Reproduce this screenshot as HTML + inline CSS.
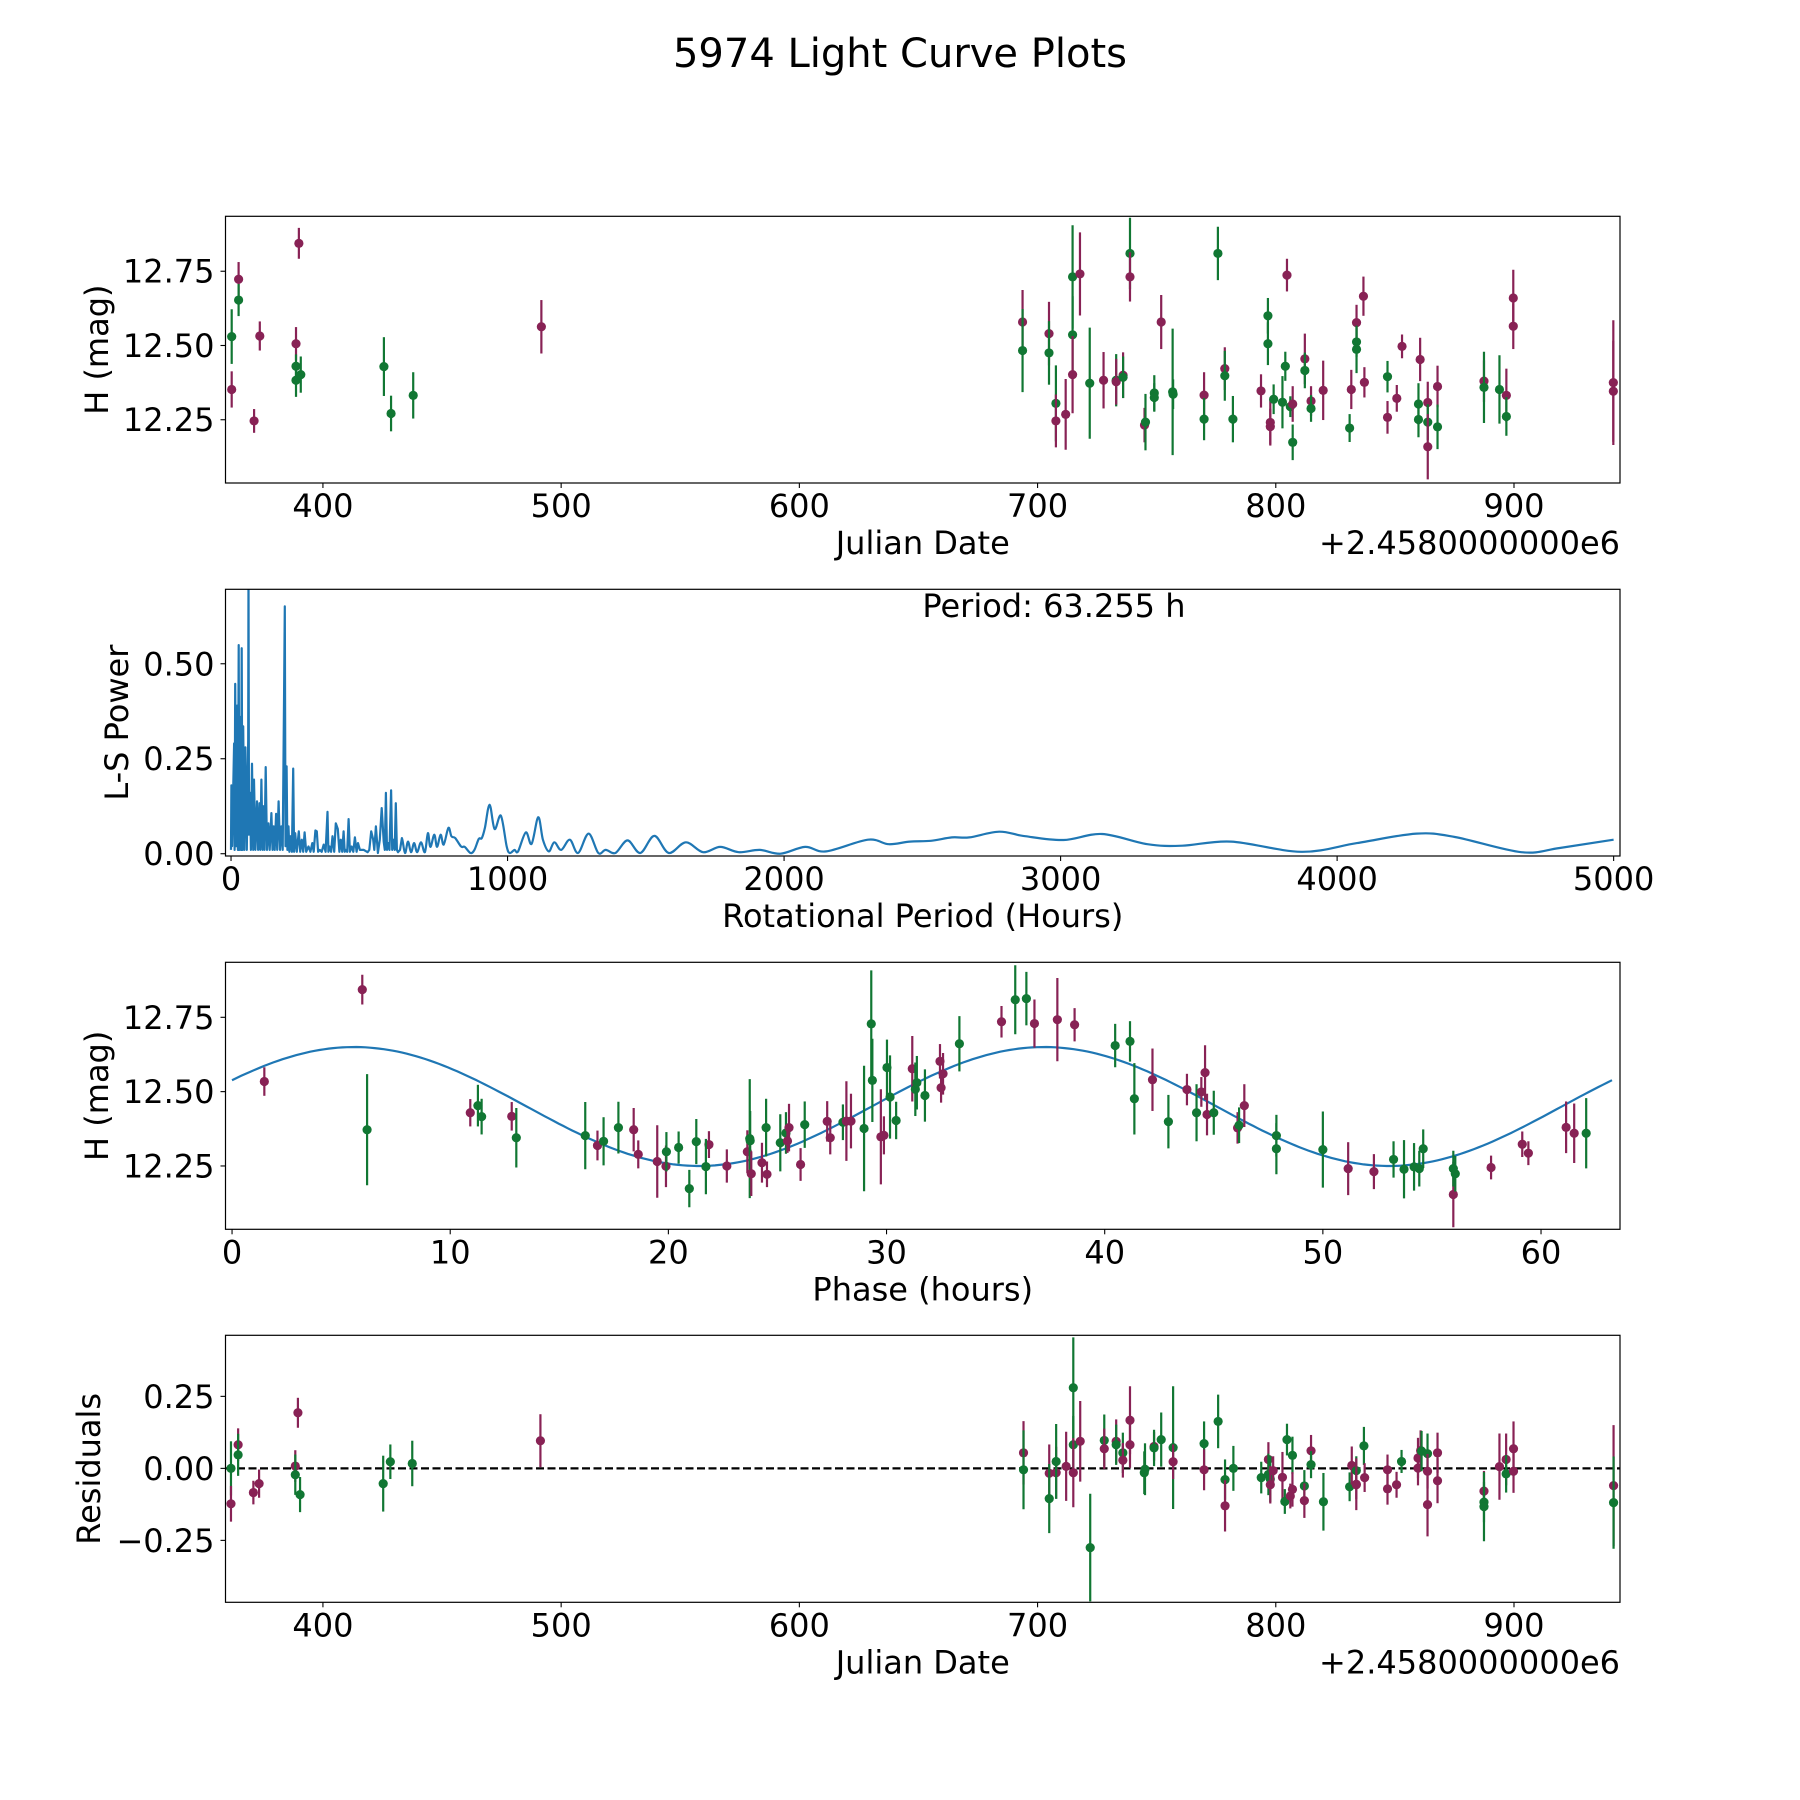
<!DOCTYPE html>
<html><head><meta charset="utf-8"><title>5974 Light Curve Plots</title>
<style>html,body{margin:0;padding:0;background:#fff}svg{display:block}text{font-family:"DejaVu Sans","Liberation Sans",sans-serif;fill:#000}</style>
</head><body>
<svg id="fig" xmlns="http://www.w3.org/2000/svg" width="1800" height="1800" viewBox="0 0 1800 1800">
<rect width="1800" height="1800" fill="#fff"/>
<text x="900" y="67" font-size="40" text-anchor="middle">5974 Light Curve Plots</text>
</svg>
<script>
// ---- Panel 1: light curve (JD offset, mag, err) ----
const lcJD = [361.7,361.7,364.6,364.6,371.1,373.5,388.7,388.7,388.7,389.9,390.7,425.6,428.6,437.9,491.7,
693.7,693.7,704.8,704.8,707.7,707.7,711.8,714.7,714.7,714.7,717.8,721.9,727.7,733.0,733.0,735.9,735.9,738.8,738.8,744.9,745.3,749.0,749.0,751.9,756.7,756.9,769.9,769.9,775.7,778.6,778.6,782.0,793.8,796.7,796.7,797.7,797.7,799.1,802.8,804.0,804.7,806.1,807.1,807.1,812.2,812.2,814.8,814.8,819.9,831.0,831.7,833.9,833.9,833.9,836.8,837.2,846.9,846.9,850.8,853.0,860.6,859.9,859.9,863.8,863.8,863.8,867.9,867.9,887.4,887.4,893.9,896.8,896.8,899.7,899.7,941.7,941.7];
const lcMag = [12.53,12.352,12.723,12.653,12.246,12.532,12.506,12.43,12.383,12.844,12.402,12.429,12.271,12.332,12.563,
12.579,12.483,12.540,12.475,12.305,12.246,12.268,12.731,12.536,12.402,12.741,12.373,12.383,12.383,12.378,12.4,12.393,12.81,12.731,12.232,12.242,12.34,12.325,12.579,12.344,12.336,12.333,12.252,12.81,12.422,12.398,12.252,12.347,12.6,12.506,12.241,12.227,12.319,12.309,12.43,12.737,12.294,12.303,12.174,12.455,12.416,12.313,12.288,12.349,12.222,12.352,12.577,12.512,12.487,12.666,12.376,12.395,12.258,12.322,12.497,12.453,12.303,12.251,12.308,12.242,12.159,12.362,12.226,12.38,12.359,12.352,12.332,12.261,12.66,12.565,12.375,12.346];
const lcErr = [0.092,0.061,0.058,0.054,0.04,0.049,0.056,0.04,0.056,0.052,0.061,0.099,0.06,0.078,0.09,
0.108,0.14,0.107,0.107,0.128,0.089,0.119,0.174,0.13,0.13,0.14,0.187,0.095,0.088,0.077,0.077,0.07,0.12,0.083,0.058,0.095,0.06,0.048,0.091,0.213,0.05,0.077,0.071,0.09,0.072,0.084,0.078,0.056,0.06,0.072,0.078,0.06,0.05,0.088,0.049,0.055,0.035,0.06,0.06,0.085,0.06,0.05,0.045,0.1,0.047,0.066,0.06,0.05,0.08,0.066,0.051,0.053,0.055,0.045,0.04,0.073,0.07,0.06,0.07,0.06,0.11,0.07,0.075,0.07,0.12,0.115,0.09,0.065,0.095,0.077,0.21,0.17];
const lcBand = "GMMGMMMGGMGGGGM"+"MGMGGMMGGMMGMGMMGGMMGGGMGGMGGMGGMGGMMGGGMGMGMGMGMGMMGGMMGMMMMGGMGMMGMGGMG";
// ---- Panel 2: Lomb-Scargle periodogram ----
const lsPeriod = [
0,1.4,4,11,13,15,18,22,25,27.6,
30,33,36,38.6,41,44,48,52,57,62,
63.3,65,69,72,76,80,83,88,94,98,
103,106,110,114,117,121,125.5,130,135,140,
146,150,154,158,163,167,172,177,182,187,
192,194.5,197,201,204,208,211,215,220,225,
228,232,238,245,250,256,261,266,272,280,
287,294,299,305,310,315,321,328,335,342,
349,352,356,362,367,373,379,386,392,397,
402,407,411,415,420,425,430,436,442,448,
454,459,466,480,494,500,507,514,518,524,
531,538,545,552,556,560,564,568,573,579,
583,587,592,596,600,604,611,618,629,640,
651,662,673,687,701,712,721,735,745,758,
769,786,797,811,832,845,866,880,896,907,
918,935,953,976,997,1008,1025,1038,1066,1087,
1111,1128,1149,1169,1194,1225,1255,1293,1328,1355,
1390,1434,1480,1531,1583,1645,1707,1769,1836,1912,
1987,2076,2152,2303,2379,2455,2531,2607,2670,2778,
2872,3011,3150,3314,3440,3617,3870,4072,4287,4426,
4666,4805,5000];
const lsPower = [
0.01,0.18,0.02,0.29,0.01,0.447,0.02,0.39,0.01,0.549,
0.01,0.36,0.01,0.541,0.01,0.335,0.01,0.28,0.01,0.3,
0.75,0.05,0.16,0.01,0.237,0.01,0.195,0.01,0.138,0.01,
0.133,0.01,0.195,0.01,0.125,0.01,0.228,0.01,0.08,0.01,
0.107,0.01,0.072,0.01,0.105,0.01,0.138,0.01,0.072,0.01,
0.427,0.651,0.02,0.23,0.01,0.072,0.005,0.046,0.005,0.224,
0.005,0.054,0.005,0.059,0.005,0.037,0.005,0.056,0.005,0.019,
0.005,0.028,0.005,0.061,0.059,0.005,0.01,0.005,0.024,0.005,
0.11,0.005,0.019,0.005,0.046,0.005,0.08,0.065,0.005,0.037,
0.005,0.059,0.005,0.01,0.005,0.091,0.005,0.019,0.005,0.043,
0.005,0.028,0.01,0.01,0.004,0.01,0.059,0.037,0.01,0.072,
0.002,0.037,0.12,0.032,0.01,0.16,0.01,0.028,0.01,0.167,
0.01,0.037,0.01,0.133,0.01,0.004,0.01,0.041,0.002,0.032,
0.004,0.028,0.004,0.03,0.004,0.054,0.018,0.05,0.018,0.05,
0.024,0.068,0.046,0.041,0.019,0.018,0.002,0.01,0.039,0.041,
0.068,0.129,0.065,0.1,0.019,0.002,0.01,0.006,0.056,0.026,
0.096,0.037,0.006,0.03,0.01,0.037,0.002,0.053,0.002,0.01,
0.002,0.035,0.002,0.047,0.002,0.03,0.004,0.018,0.004,0.01,
0,0.018,0.006,0.037,0.025,0.032,0.034,0.043,0.043,0.058,
0.046,0.036,0.052,0.025,0.021,0.032,0.005,0.028,0.053,0.044,
0.004,0.015,0.037];
const bestPeriodLabel = "Period: 63.255 h";
// ---- Panel 3: phased light curve ----
const phX = [1.48,5.97,6.19,10.92,11.27,11.44,12.82,13.03,16.19,16.75,17.03,17.71,18.41,18.62,19.49,19.89,19.91,20.47,20.96,21.28,21.86,21.72,22.68,23.62,23.73,23.75,23.8,24.29,24.48,24.52,25.13,25.39,25.46,25.53,26.06,26.25,27.28,27.42,28.0,28.16,28.37,28.97,29.3,29.35,29.74,29.88,30.02,30.16,30.44,31.18,31.32,31.39,31.76,32.45,32.5,32.59,
33.34,35.27,35.9,36.41,36.78,37.83,38.62,40.48,41.16,41.36,42.19,42.92,43.77,44.21,44.43,44.6,44.69,45.0,46.09,46.16,46.4,47.87,47.87,50.0,51.16,52.34,53.24,53.72,54.18,54.42,54.6,55.98,55.98,56.07,57.71,59.14,59.42,61.15,61.52,62.07];
const phMag = [12.534,12.843,12.372,12.429,12.453,12.416,12.417,12.345,12.352,12.319,12.333,12.379,12.372,12.289,12.265,12.249,12.298,12.312,12.174,12.332,12.322,12.248,12.25,12.298,12.342,12.335,12.224,12.261,12.379,12.222,12.328,12.361,12.334,12.379,12.255,12.389,12.4,12.345,12.397,12.401,12.401,12.376,12.728,12.538,12.348,12.353,12.581,12.482,12.403,12.577,12.508,12.53,12.487,12.602,12.513,12.56,
12.661,12.735,12.809,12.813,12.729,12.742,12.725,12.655,12.669,12.476,12.54,12.399,12.507,12.429,12.499,12.564,12.423,12.429,12.378,12.387,12.453,12.352,12.308,12.305,12.241,12.231,12.272,12.239,12.247,12.241,12.308,12.154,12.241,12.224,12.245,12.323,12.293,12.38,12.36,12.36];
const phErr = [0.048,0.05,0.187,0.046,0.07,0.06,0.048,0.1,0.113,0.05,0.081,0.087,0.073,0.047,0.122,0.07,0.066,0.054,0.063,0.076,0.045,0.093,0.056,0.072,0.2,0.1,0.075,0.067,0.097,0.043,0.096,0.07,0.04,0.08,0.055,0.078,0.068,0.056,0.06,0.134,0.092,0.211,0.18,0.14,0.16,0.064,0.094,0.14,0.063,0.11,0.09,0.09,0.088,0.058,0.05,0.07,
0.093,0.053,0.116,0.09,0.081,0.14,0.056,0.073,0.068,0.12,0.105,0.09,0.053,0.096,0.05,0.092,0.07,0.074,0.053,0.06,0.072,0.07,0.086,0.128,0.089,0.059,0.061,0.098,0.08,0.06,0.065,0.11,0.06,0.06,0.04,0.043,0.04,0.087,0.1,0.118];
const phBand = "MMGMGGMGGMGGMMMMGGGGMGMMGGMMGMGGMMMGMMGMMGGGMMGGGMGGGMMM"+"GMGGMMMGGGMGMGMMMGMGMGGGMMGGGGGMGGMMMMMG";
const fitMean = 12.45, fitAmp = 0.2, fitPeak = 5.6, fitPeriod = 63.255;
// ---- Panel 4: residuals ----
const rsJD = [361.4,361.4,364.4,364.4,370.8,373.2,388.4,388.4,389.5,390.4,425.3,428.3,437.5,491.3,
694.1,694.1,704.9,704.9,707.8,707.8,712.0,715.0,715.0,715.0,717.9,722.1,728.0,728.0,733.0,733.0,735.8,735.8,738.8,738.8,744.8,745.1,748.9,748.9,751.9,756.9,756.9,769.9,769.9,775.8,778.7,778.7,782.2,793.9,796.9,796.9,797.7,797.7,798.9,802.8,804.7,803.8,806.1,807.0,807.0,812.0,812.0,814.8,814.8,820.0,831.0,831.9,833.8,833.8,833.8,837.0,837.3,846.9,846.9,850.7,852.8,859.7,859.7,860.8,861.2,863.7,863.7,863.7,867.9,867.9,887.4,887.4,887.4,893.9,896.7,896.7,899.8,899.8,941.8,941.8];
const rsVal = [0.0,-0.123,0.082,0.047,-0.084,-0.053,0.008,-0.022,0.193,-0.091,-0.053,0.023,0.017,0.096,
0.054,-0.005,-0.017,-0.105,-0.015,0.024,0.007,0.28,0.082,-0.015,0.094,-0.275,0.097,0.068,0.094,0.082,0.054,0.028,0.167,0.082,-0.015,-0.003,0.076,0.071,0.1,0.072,0.023,0.086,-0.005,0.163,-0.039,-0.13,0.0,-0.032,0.031,-0.021,-0.037,-0.057,-0.008,-0.031,0.1,-0.115,-0.096,0.045,-0.073,-0.061,-0.112,0.061,0.013,-0.116,-0.064,0.01,-0.008,-0.057,-0.055,0.078,-0.032,-0.005,-0.071,-0.057,0.024,0.036,0.001,0.062,0.06,0.051,-0.01,-0.126,0.054,-0.043,-0.079,-0.117,-0.133,0.006,0.031,-0.019,0.068,-0.01,-0.06,-0.119];
const rsErr = [0.094,0.062,0.057,0.073,0.041,0.049,0.055,0.07,0.052,0.061,0.097,0.06,0.079,0.092,
0.11,0.137,0.1,0.12,0.09,0.13,0.12,0.175,0.1,0.12,0.14,0.187,0.09,0.07,0.076,0.07,0.07,0.06,0.118,0.08,0.074,0.09,0.05,0.063,0.094,0.213,0.06,0.077,0.071,0.093,0.07,0.089,0.078,0.055,0.06,0.072,0.08,0.065,0.05,0.088,0.055,0.043,0.043,0.065,0.06,0.055,0.06,0.055,0.047,0.1,0.05,0.066,0.05,0.05,0.09,0.066,0.05,0.053,0.055,0.045,0.04,0.07,0.06,0.07,0.07,0.07,0.06,0.11,0.07,0.078,0.07,0.07,0.12,0.115,0.09,0.065,0.095,0.075,0.21,0.16];
const rsBand = "GMMGMMMGMGGGGM"+"MGMGMGMGGMMGGMMGGMMMGGMGGGMGMGGMGGMGGMMMGGMGMGMMGGGMGMMGMMMMGMMMGGMMMMMGGMMGMMMGGGMGMGGM";

const NS = "http://www.w3.org/2000/svg";
const svg = document.getElementById('fig');
const COL = {M:'#882255', G:'#117733'};
function mk(tag, attrs, parent){const e=document.createElementNS(NS,tag);for(const k in attrs)e.setAttribute(k,attrs[k]);(parent||svg).appendChild(e);return e;}
function panel(cfg){
  const g = mk('g',{});
  
  
  const sx = v => cfg.L + (v-cfg.x0)/(cfg.x1-cfg.x0)*(cfg.R-cfg.L);
  const sy = v => cfg.B - (v-cfg.y0)/(cfg.y1-cfg.y0)*(cfg.B-cfg.T);
  const clipId = 'clip-'+cfg.name;
  const cp = mk('clipPath',{id:clipId},g);
  mk('rect',{x:cfg.L,y:cfg.T,width:cfg.R-cfg.L,height:cfg.B-cfg.T},cp);
  const plot = mk('g',{'clip-path':'url(#'+clipId+')'},g);
  cfg.xticks.forEach((t,i)=>{
    const x=sx(t);
    const tl = mk('line',{x1:x,x2:x,y1:cfg.B,y2:cfg.B+5,stroke:'#000','stroke-width':1.1},g);
    
    
    const tx = mk('text',{x:x,y:cfg.B+34,'font-size':32,'text-anchor':'middle'},g);
    
    
    tx.textContent = cfg.xtickLabels[i];
  });
  cfg.yticks.forEach((t,i)=>{
    const y=sy(t);
    const tl = mk('line',{x1:cfg.L-5,x2:cfg.L,y1:y,y2:y,stroke:'#000','stroke-width':1.1},g);
    
    
    const tx = mk('text',{x:cfg.L-11,y:y+11.5,'font-size':32,'text-anchor':'end'},g);
    
    
    tx.textContent = cfg.ytickLabels[i];
  });
  const xl = mk('text',{x:(cfg.L+cfg.R)/2,y:cfg.B+71,'font-size':32,'text-anchor':'middle'},g);
  
  
  xl.textContent = cfg.xlabel;
  const yc=(cfg.T+cfg.B)/2;
  const yl = mk('text',{x:0,y:0,'font-size':32,'text-anchor':'middle',transform:`translate(${cfg.ylx},${yc}) rotate(-90)`},g);
  
  
  yl.textContent = cfg.ylabel;
  if(cfg.offset){
    const ot = mk('text',{x:cfg.R,y:cfg.B+71,'font-size':32,'text-anchor':'end'},g);
    
    
    ot.textContent = cfg.offset;
  }
  return {g, plot, sx, sy, cfg};
}
function errpoints(p, xs, ys, es, bands, nm){
  xs.forEach((xv,i)=>{
    const c = COL[bands[i]] || COL.M;
    const x=p.sx(xv), y=p.sy(ys[i]);
    const l = mk('line',{x1:x,x2:x,y1:p.sy(ys[i]+es[i]),y2:p.sy(ys[i]-es[i]),stroke:c,'stroke-width':2.2},p.plot);
    
    
    const d = mk('circle',{cx:x,cy:y,r:4.6,fill:c},p.plot);
    
    
  });
}
function frame(p){
  const c=p.cfg;
  const r = mk('rect',{x:c.L,y:c.T,width:c.R-c.L,height:c.B-c.T,fill:'none',stroke:'#000','stroke-width':1.2},p.g);
  
  
}
const jdTicks=[400,500,600,700,800,900], jdLabels=['400','500','600','700','800','900'];
const magTicks=[12.25,12.5,12.75], magLabels=['12.25','12.50','12.75'];

// Panel 1
const p1 = panel({name:'light-curve-panel',L:225.5,R:1620,T:216.3,B:483,x0:359.1,x1:944.5,y0:12.037,y1:12.935,
  xticks:jdTicks,xtickLabels:jdLabels,yticks:magTicks,ytickLabels:magLabels,xlabel:'Julian Date',ylabel:'H (mag)',ylx:108,offset:'+2.4580000000e6'});
errpoints(p1, lcJD, lcMag, lcErr, lcBand, 'light-curve');
frame(p1);

// Panel 2
const p2 = panel({name:'periodogram-panel',L:225.5,R:1620,T:589.3,B:856,x0:-20,x1:5023,y0:-0.006,y1:0.696,
  xticks:[0,1000,2000,3000,4000,5000],xtickLabels:['0','1000','2000','3000','4000','5000'],
  yticks:[0,0.25,0.5],ytickLabels:['0.00','0.25','0.50'],xlabel:'Rotational Period (Hours)',ylabel:'L-S Power',ylx:128});
const P = lsPeriod.map((v,i)=>[p2.sx(v), p2.sy(lsPower[i])]);
let d = 'M'+P[0][0].toFixed(1)+','+P[0][1].toFixed(1);
for(let i=1;i<P.length;i++){
  if(lsPeriod[i] > 620 && i+1 < P.length){
    const p0=P[i-2]||P[i-1], pa=P[i-1], pb=P[i], pn=P[i+1]||P[i];
    const c1x=pa[0]+(pb[0]-p0[0])/6, c1y=pa[1]+(pb[1]-p0[1])/6;
    const c2x=pb[0]-(pn[0]-pa[0])/6, c2y=pb[1]-(pn[1]-pa[1])/6;
    d+=` C${c1x.toFixed(1)},${c1y.toFixed(1)} ${c2x.toFixed(1)},${c2y.toFixed(1)} ${pb[0].toFixed(1)},${pb[1].toFixed(1)}`;
  } else {
    d+=` L${P[i][0].toFixed(1)},${P[i][1].toFixed(1)}`;
  }
}
const pl = mk('path',{d:d,fill:'none',stroke:'#1f77b4','stroke-width':2.2,'stroke-linejoin':'round'},p2.plot);


const per = mk('text',{x:p2.sx(2500),y:617,'font-size':32},p2.g);


per.textContent = bestPeriodLabel;
frame(p2);

// Panel 3
const p3 = panel({name:'phase-panel',L:225.5,R:1620,T:962.3,B:1229.3,x0:-0.3,x1:63.62,y0:12.037,y1:12.935,
  xticks:[0,10,20,30,40,50,60],xtickLabels:['0','10','20','30','40','50','60'],yticks:magTicks,ytickLabels:magLabels,
  xlabel:'Phase (hours)',ylabel:'H (mag)',ylx:108});
let fp=[];
for(let k=0;k<=300;k++){const ph=fitPeriod*k/300;const m=fitMean+fitAmp*Math.cos(4*Math.PI*(ph-fitPeak)/fitPeriod);fp.push(p3.sx(ph).toFixed(1)+','+p3.sy(m).toFixed(1));}
const fl = mk('polyline',{points:fp.join(' '),fill:'none',stroke:'#1f77b4','stroke-width':2.2},p3.plot);


errpoints(p3, phX, phMag, phErr, phBand, 'phase');
frame(p3);

// Panel 4
const p4 = panel({name:'residuals-panel',L:225.5,R:1620,T:1335.3,B:1602.3,x0:359.1,x1:944.5,y0:-0.465,y1:0.462,
  xticks:jdTicks,xtickLabels:jdLabels,yticks:[-0.25,0,0.25],ytickLabels:['\u22120.25','0.00','0.25'],
  xlabel:'Julian Date',ylabel:'Residuals',ylx:100,offset:'+2.4580000000e6'});
const zl = mk('line',{x1:p4.cfg.L,x2:p4.cfg.R,y1:p4.sy(0),y2:p4.sy(0),stroke:'#000','stroke-width':2.2,'stroke-dasharray':'8,3.5'},p4.plot);


errpoints(p4, rsJD, rsVal, rsErr, rsBand, 'residual');
frame(p4);
</script>
</body></html>
